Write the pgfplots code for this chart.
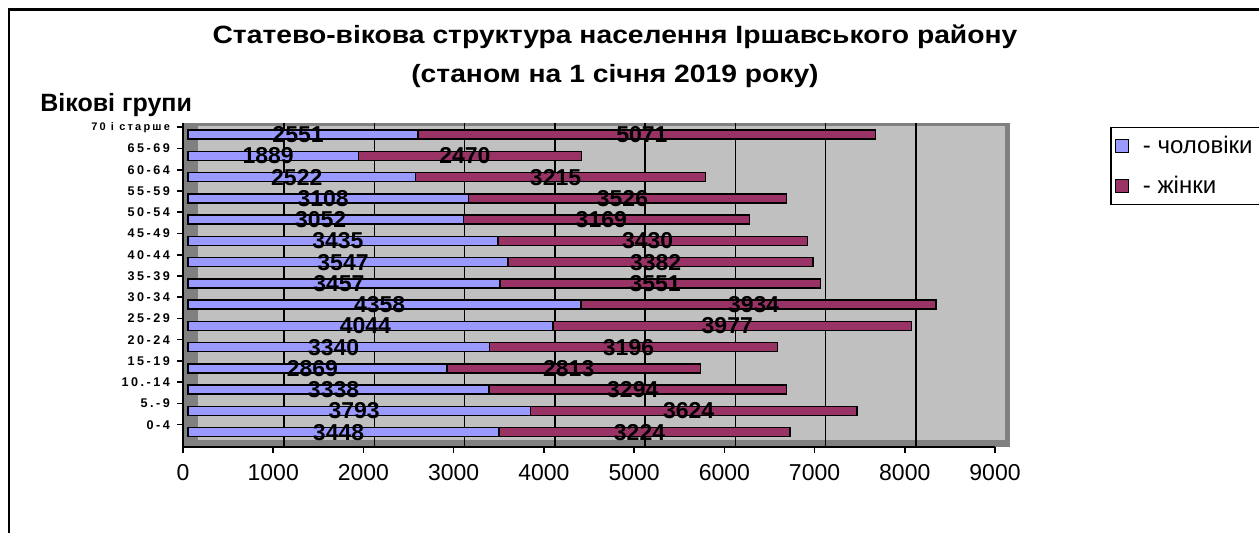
\documentclass[border=0pt]{standalone}
\usepackage{pgfplots}
\pgfplotsset{compat=1.18}
\usepackage{pgfplotstable}
\usepackage{fontspec}
\setmainfont{Liberation Sans}
\newfontfamily\catfont[LetterSpace=20]{Liberation Sans}
\newfontfamily\titlefont[FakeStretch=1.13]{Liberation Sans}

\definecolor{men}{HTML}{9999FF}
\definecolor{women}{HTML}{993366}
\definecolor{wall}{HTML}{C0C0C0}
\definecolor{wallDark}{HTML}{808080}

% y = age group index, m = men, f = women
\pgfplotstableread{
y  m    f
0  3448 3224
1  3793 3624
2  3338 3294
3  2869 2813
4  3340 3196
5  4044 3977
6  4358 3934
7  3457 3551
8  3547 3382
9  3435 3430
10 3052 3169
11 3108 3526
12 2522 3215
13 1889 2470
14 2551 5071
}\agedata

\begin{document}
\begin{tikzpicture}
\draw[line width=1.2pt] (4.5pt,-5pt) -- (4.5pt,261.75pt) -- (640pt,261.75pt);
\node[anchor=base, font=\titlefont\bfseries\fontsize{12.5}{14}\selectfont] at (307.5pt,244.75pt)
  {Статево-вікова структура населення Іршавського району};
\node[anchor=base, font=\titlefont\bfseries\fontsize{12.5}{14}\selectfont] at (307.5pt,225pt)
  {(станом на 1 січня 2019 року)};
\node[anchor=base west, inner sep=0pt, font=\bfseries\fontsize{12.5}{14}\selectfont] at (20pt,210.5pt)
  {Вікові групи};

\begin{axis}[
  at={(91.5pt,43pt)}, anchor=south west,
  scale only axis, width=406pt, height=162pt,
  xmin=0, xmax=9000, ymin=-0.7, ymax=14.55,
  clip=false, set layers,
  axis lines*=left,
  axis line style={line width=0.9pt},
  tick align=outside, major tick length=3pt,
  tick style={black, line width=0.8pt},
  xtick={0,1000,...,9000},
  extra x ticks={1000,2000,...,8000},
  extra x tick labels={},
  extra x tick style={grid=major, major tick length=0pt,
    major grid style={black, line width=0.8pt, xshift=5.5pt}},
  xticklabel style={font=\fontsize{11.5}{13}\selectfont, yshift=-2pt},
  /pgf/number format/assume math mode=true,
  /pgf/number format/1000 sep={},
  ytick={0.35,1.35,2.35,3.35,4.35,5.35,6.35,7.35,8.35,9.35,10.35,11.35,12.35,13.35,14.35},
  yticklabels={0-4,5.-9,10.-14,15-19,20-24,25-29,30-34,35-39,40-44,45-49,50-54,55-59,60-64,65-69,{\fontsize{5.5}{6}\selectfont 70 і старше}},
  yticklabel style={font=\catfont\bfseries\fontsize{6.3}{7}\selectfont},
  legend style={at={(1.1416,0.988)}, anchor=north west, draw=black, line width=0.8pt,
    font=\fontsize{12}{12}\selectfont, row sep=10pt, inner xsep=2pt, inner ysep=4pt,
    nodes={inner ysep=0pt, inner xsep=2pt}},
  legend cell align=left,
  legend image code/.code={\draw[#1, draw=black, line width=0.6pt] (0pt,-3.25pt) rectangle (6.5pt,3.25pt);},
  reverse legend,
]
\begin{pgfonlayer}{axis background}
\fill[wallDark] (axis cs:0,-0.7) rectangle (axis cs:9167,14.55);
\fill[wall] (axis cs:166,-0.37) rectangle (axis cs:9111,14.41);
\end{pgfonlayer}

\addplot[xbar, bar width=4.5pt, bar shift=0pt, fill=women, draw=black, line width=0.7pt, xshift=2.5pt]
  table[x expr=\thisrow{m}+\thisrow{f}, y=y] {\agedata};
\addlegendentry{\hspace*{5pt}- жінки\hspace*{10pt}}
\addplot[xbar, bar width=4.5pt, bar shift=0pt, fill=men, draw=black, line width=0.7pt, xshift=2.5pt]
  table[x=m, y=y] {\agedata};
\addlegendentry{\hspace*{5pt}- чоловіки\hspace*{10pt}}

\addplot[forget plot, only marks, mark=*, mark size=0pt, mark options={draw=none,fill=none},
  point meta=explicit symbolic, nodes near coords,
  every node near coord/.append style={font=\bfseries\fontsize{11.5}{12}\selectfont, inner sep=0pt, anchor=center}]
  table[x expr=\thisrow{m}/2, y=y, meta=m] {\agedata};
\addplot[forget plot, only marks, mark=*, mark size=0pt, mark options={draw=none,fill=none},
  point meta=explicit symbolic, nodes near coords,
  every node near coord/.append style={font=\bfseries\fontsize{11.5}{12}\selectfont, inner sep=0pt, anchor=center}]
  table[x expr=\thisrow{m}+\thisrow{f}/2, y=y, meta=f] {\agedata};
\end{axis}
\pgfresetboundingbox
\useasboundingbox (0pt,0pt) rectangle (629.5pt,266.5pt);
\end{tikzpicture}
\end{document}
